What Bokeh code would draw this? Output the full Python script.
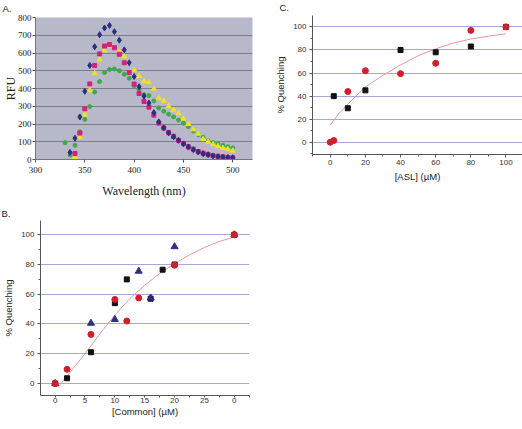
from bokeh.plotting import figure
from bokeh.layouts import row, column
from bokeh.models import Range1d, FixedTicker, Spacer
from bokeh.embed import file_html
from bokeh.resources import INLINE

# ---------------- Panel A data (RFU vs wavelength) ----------------
wl_blue = [335, 340, 345, 350, 355, 360, 365, 370, 375, 380, 385, 390, 395, 400, 405, 410, 415, 420,
           425, 430, 435, 440, 445, 450, 455, 460, 465, 470, 475, 480, 485, 490, 495, 500]
rfu_blue = [40, 120, 240, 384, 530, 635, 703, 741, 755, 720, 672, 618, 545, 467, 410, 357, 318, 264,
            212, 178, 150, 128, 108, 88, 70, 55, 42, 33, 27, 20, 16, 13, 11, 10]
wl_magenta = [340, 345, 350, 355, 360, 365, 370, 375, 380, 385, 390, 395, 400, 405, 410, 415, 420,
              425, 430, 435, 440, 445, 450, 455, 460, 465, 470, 475, 480, 485, 490, 495, 500]
rfu_magenta = [34, 149, 286, 426, 530, 595, 639, 648, 630, 593, 545, 490, 425, 372, 327, 295, 250,
               205, 178, 152, 130, 108, 90, 72, 58, 45, 35, 28, 22, 18, 15, 12, 10]
wl_yellow = [340, 345, 350, 355, 360, 365, 370, 375, 380, 385, 390, 395, 400, 405, 410, 415, 420,
             425, 430, 435, 440, 445, 450, 455, 460, 465, 470, 475, 480, 485, 490, 495, 500]
rfu_yellow = [14, 126, 252, 390, 486, 563, 615, 640, 630, 608, 580, 545, 505, 470, 440, 435, 398,
              345, 330, 300, 280, 260, 230, 200, 170, 145, 115, 100, 85, 75, 65, 58, 50]
wl_green = [330, 335, 340, 345, 350, 355, 360, 365, 370, 375, 380, 385, 390, 395, 400, 405, 410, 415,
            420, 425, 430, 435, 440, 445, 450, 455, 460, 465, 470, 475, 480, 485, 490, 495, 500]
rfu_green = [95, 25, 80, 156, 226, 298, 380, 439, 490, 507, 510, 500, 480, 458, 415, 395, 365, 360,
             330, 290, 272, 255, 240, 222, 205, 185, 160, 140, 125, 105, 95, 88, 80, 72, 65]
a_xticks = [300, 350, 400, 450, 500]
a_yticks = [0, 100, 200, 300, 400, 500, 600, 700, 800]

# ---------------- Panel B data (% quenching vs [Common]) ----------------
b_sq_x = [0, 2, 6, 10, 12, 16, 18, 20, 30]
b_sq_y = [0, 3.5, 21, 54, 70, 57, 76.5, 80, 100]
b_tri_x = [0, 6, 10, 14, 16, 20, 30]
b_tri_y = [0, 40.5, 43, 75.5, 57.5, 92, 100]
b_circ_x = [0, 2, 6, 10, 12, 14, 20, 30]
b_circ_y = [0, 9.5, 33, 56.5, 42, 57.5, 79.5, 100]
b_fit_x = [0.5, 2, 5, 8, 10, 12.5, 15, 17.5, 20, 22.5, 25, 27.5, 30]
b_fit_y = [-2.5, 5, 20, 36, 46, 57, 66, 74, 80.5, 86.5, 91.5, 95.5, 98.5]
b_xticks = [0, 5, 10, 15, 20, 25, 30]
b_xtick_labels = ["0", "5", "10", "15", "20", "25", "0"]
b_yticks = [0, 20, 40, 60, 80, 100]

# ---------------- Panel C data (% quenching vs [ASL]) ----------------
c_sq_x = [2, 10, 20, 40, 60, 80, 100]
c_sq_y = [40, 29.5, 45, 80, 78, 83, 100]
c_circ_x = [0, 2, 10, 20, 40, 60, 80, 100]
c_circ_y = [0, 1.5, 44, 62, 59.5, 68.5, 97, 100]
c_fit_x = [0, 5, 10, 20, 30, 40, 50, 60, 70, 80, 90, 100]
c_fit_y = [15, 25, 33, 48, 58, 67, 75, 81, 86, 89.5, 92, 94]
c_xticks = [0, 20, 40, 60, 80, 100]
c_yticks = [0, 20, 40, 60, 80, 100]

SANS = "Liberation Sans"
SERIF = "Liberation Serif"
GRID_BC = "#a7a7d8"
RED = "#d01f2a"
NAVY = "#2b2f86"
FIT = "#e79a97"


def style_bc(p):
    for ax in (p.xaxis[0], p.yaxis[0]):
        ax.axis_line_color = "#555555"
        ax.major_tick_line_color = "#555555"
        ax.minor_tick_line_color = "#555555"
        ax.major_tick_in = 0
        ax.major_tick_out = 3
        ax.minor_tick_in = 0
        ax.minor_tick_out = 2
        ax.major_label_text_font = SANS
        ax.major_label_text_font_size = "8px"
        ax.major_label_text_color = "#333333"
        ax.axis_label_text_font = SANS
        ax.axis_label_text_font_size = "9.5px"
        ax.axis_label_text_font_style = "normal"
        ax.axis_label_text_color = "#222222"
        ax.major_label_standoff = 3
        ax.axis_label_standoff = 4
    p.xgrid.grid_line_color = None
    p.ygrid.grid_line_color = GRID_BC
    p.ygrid.grid_line_width = 1
    p.outline_line_color = None
    p.background_fill_color = "white"


def panel_title(p, text, offset, standoff):
    p.title.text = text
    p.title.align = "left"
    p.title.vertical_align = "top"
    p.title.offset = offset
    p.title.standoff = standoff
    p.title.text_font = SANS
    p.title.text_font_size = "9.5px"
    p.title.text_font_style = "normal"
    p.title.text_color = "#222222"


# ---------------- Panel A ----------------
pA = figure(width=258, height=200, output_backend="svg", toolbar_location=None,
            x_range=Range1d(300, 520), y_range=Range1d(0, 800),
            min_border_left=32, min_border_right=6, min_border_top=15, min_border_bottom=39)
pA.background_fill_color = "#b7b9ca"
pA.outline_line_color = None
pA.xgrid.grid_line_color = None
pA.ygrid.grid_line_color = "#7d7d85"
pA.ygrid.grid_line_width = 1
pA.xaxis.ticker = FixedTicker(ticks=a_xticks)
pA.yaxis.ticker = FixedTicker(ticks=a_yticks)
for ax in (pA.xaxis[0], pA.yaxis[0]):
    ax.axis_line_color = "#777777"
    ax.major_tick_line_color = "#555555"
    ax.major_tick_in = 0
    ax.major_tick_out = 3
    ax.minor_tick_line_color = None
    ax.major_label_text_font = SERIF
    ax.major_label_text_font_size = "9px"
    ax.major_label_text_color = "#222222"
    ax.major_label_standoff = 1
    ax.axis_label_text_font = SERIF
    ax.axis_label_text_font_size = "12px"
    ax.axis_label_text_font_style = "normal"
    ax.axis_label_text_color = "#222222"
pA.xaxis.axis_label = "Wavelength (nm)"
pA.yaxis.axis_label = "RFU"
pA.xaxis.major_label_standoff = 4
pA.xaxis.axis_label_standoff = 8
pA.yaxis.axis_label_standoff = -3
pA.yaxis.axis_label_text_line_height = 0.9
pA.scatter(wl_green, rfu_green, marker="circle", size=4, fill_color="#3fa84a", line_color="#3fa84a")
pA.scatter(wl_yellow, rfu_yellow, marker="triangle", size=5, fill_color="#f2e31b", line_color="#f2e31b")
pA.scatter(wl_magenta, rfu_magenta, marker="square", size=4, fill_color="#d6207e", line_color="#d6207e")
pA.scatter(wl_blue, rfu_blue, marker="diamond", size=6, fill_color="#2a2f80", line_color="#2a2f80")
panel_title(pA, "A.", -33, 4)

# ---------------- Panel C ----------------
pC = figure(width=264, height=200, output_backend="svg", toolbar_location=None,
            x_range=Range1d(-10.1, 109.4), y_range=Range1d(-10.6, 109.9),
            min_border_left=54, min_border_right=0, min_border_top=13, min_border_bottom=46)
style_bc(pC)
pC.xaxis.ticker = FixedTicker(ticks=c_xticks, minor_ticks=[-10, 10, 30, 50, 70, 90])
pC.yaxis.ticker = FixedTicker(ticks=c_yticks, minor_ticks=[-10, 10, 30, 50, 70, 90, 110])
pC.xaxis.axis_label = "[ASL] (µM)"
pC.yaxis.axis_label = "% Quenching"
pC.xaxis.major_label_standoff = 2
pC.xaxis.axis_label_standoff = 3
pC.line(c_fit_x, c_fit_y, line_color=FIT, line_width=1)
pC.scatter(c_sq_x, c_sq_y, marker="square", size=5, fill_color="#111111", line_color="#111111")
pC.scatter(c_circ_x, c_circ_y, marker="circle", size=6, fill_color=RED, line_color=RED)
panel_title(pC, "C.", -33, 2)

# ---------------- Panel B ----------------
pB = figure(width=258, height=229, output_backend="svg", toolbar_location=None,
            x_range=Range1d(-2.45, 32.55), y_range=Range1d(-8.1, 109.6),
            min_border_left=39, min_border_right=9, min_border_top=20, min_border_bottom=34)
style_bc(pB)
pB.xaxis.ticker = FixedTicker(ticks=b_xticks, minor_ticks=[-2.5, 2.5, 7.5, 12.5, 17.5, 22.5, 27.5, 32.5])
pB.xaxis.major_label_overrides = {t: s for t, s in zip(b_xticks, b_xtick_labels)}
pB.yaxis.ticker = FixedTicker(ticks=b_yticks, minor_ticks=[10, 30, 50, 70, 90, 110])
pB.xaxis.axis_label = "[Common] (µM)"
pB.yaxis.axis_label = "% Quenching"
pB.xaxis.major_tick_out = 2
pB.xaxis.major_label_standoff = 0
pB.xaxis.axis_label_standoff = 0
pB.line(b_fit_x, b_fit_y, line_color=FIT, line_width=1)
pB.scatter(b_sq_x, b_sq_y, marker="square", size=5, fill_color="#111111", line_color="#111111")
pB.scatter(b_tri_x, b_tri_y, marker="triangle", size=7, fill_color=NAVY, line_color=NAVY)
pB.scatter(b_circ_x, b_circ_y, marker="circle", size=6, fill_color=RED, line_color=RED)
panel_title(pB, "B.", -39, 0)

top = row(Spacer(width=0, height=200), column(pA), column(pC))
bottom = row(Spacer(width=0, height=229), column(pB))
layout = column(top, bottom)
open("out.html", "w").write(file_html(layout, INLINE))
